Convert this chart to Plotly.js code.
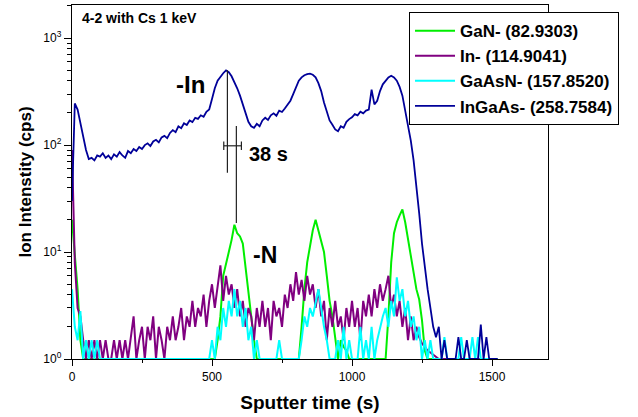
<!DOCTYPE html>
<html><head><meta charset="utf-8">
<script src="https://cdn.plot.ly/plotly-3.0.1.min.js"></script>
<style>html,body{margin:0;padding:0;background:#fff}#chart{width:638px;height:417px}</style>
</head><body><div id="chart"></div>
<script>
// Sputter time (s)
const time = [
  0,10,20,30,40,50,60,70,80,90,
  100,110,120,130,140,150,160,170,180,190,
  200,210,220,230,240,250,260,270,280,290,
  300,310,320,330,340,350,360,370,380,390,
  400,410,420,430,440,450,460,470,480,490,
  500,510,520,530,540,550,560,570,580,590,
  600,610,620,630,640,650,660,670,680,690,
  700,710,720,730,740,750,760,770,780,790,
  800,810,820,830,840,850,860,870,880,890,
  900,910,920,930,940,950,960,970,980,990,
  1000,1010,1020,1030,1040,1050,1060,1070,1080,1090,
  1100,1110,1120,1130,1140,1150,1160,1170,1180,1190,
  1200,1210,1220,1230,1240,1250,1260,1270,1280,1290,
  1300,1310,1320,1330,1340,1350,1360,1370,1380,1390,
  1400,1410,1420,1430,1440,1450,1460,1470,1480,1490,
  1500,1510,1520
];
const GaN = [
  20,9,4.5,1.5,1,1,1,1,1,1,
  1,1,1,1,1,1,1,1,1,1,
  1,1,1,1,1,1,1,1,1,1,
  1,1,1,1,1,1,1,1,1,1,
  1,1,1,1,1,1,1,1,1,1,
  1,1,1.5,2.5,6,8,10,13,18,15,
  14,12,7,4.5,2.5,1.5,1,1,1,1,
  1,1,1,1,1,1,1,1,1,1,
  1,1,2,4.5,8,11,16,20,16,13,
  10,6,3.5,2.5,1.5,1,1.5,1.3,1.2,1,
  1,1,1,1,1,1,1,1,1,1,
  1,1,1,2.5,8,15,19,22,25,19,
  13,9.5,6,4.5,3.6,2.3,1.2,1,1,1,
  1,1,1,1,1,1,1,1,1,1,
  1,1,1,1,1,1,1,1,1,1,
  1,1,1
];
const In = [
  90,8,3,2.5,1.5,1,1.5,1,1.5,1,
  1.5,1,1.5,1,1,1.5,1,1.5,1,1.5,
  1,1.5,2.5,1,1.5,2,1,2,1.5,2.5,
  1,2,1.5,1,2,1.5,2.5,1.5,2,3,
  1.5,2.5,2,3.5,2,3,2.5,4,2,3.5,
  5,3,4.5,7.5,3.5,6,4,5,3,4.5,
  2.5,3.5,2,3,2.5,1.5,3,2,3.5,2,
  3,1.5,3.5,2.5,3,2,4,3,5,3.5,
  6.5,4,5.5,3.5,6,4,5,3,4.5,2.5,
  3.5,1.5,3,2,3.5,2,2.5,1.5,3,2,
  3.5,2,3,1.5,3.5,2.5,4,2.5,4.5,3,
  5,3.5,4.5,6,3,4,2.5,3.5,2,3,
  1.5,2.5,1.5,2,1.6,1.4,1.3,1.2,1.15,1.1,
  1.05,1,1,1,1,1,1,1,1,1,
  1,1,1,1,1,1,1,1,1,1,
  1,1,1
];
const GaAsN = [
  4.5,2,1.5,2.8,1,1.5,1,1.5,1,1.5,
  1,1,1,1,1,1,1,1,1,1,
  1,1,1,1,1,1,1,1,1,1,
  1,1,1,1,1,1,1,1,1,1,
  1,1,1,1,1,1,1,1,1,1,
  1.5,1,2,1.5,3,2,3.5,2.5,4.5,2.5,
  3.5,2,3,1.5,2,1,1.5,1,1,1,
  1,1,1,1,1.5,1,1,1,1,1,
  1,1,1.5,2.5,2,3,2.5,3.5,4.5,3,
  2,1.5,1,1,1,1.5,1,2,1,1.5,
  1,1,1,2,1,1.5,1,2,1,1.5,
  2,2.5,3,2,3.5,2.5,5.8,3.5,4.5,2.5,
  3.5,2,2.5,1.5,2,1,1.5,1,1.5,1,
  1,1,1,1.6,1,1,1,1,1,1.6,
  1,1,1,1.6,1,1.6,1,1,1,1,
  1,1,1
];
const InGaAs = [
  30,245,215,160,120,90,74,76,72,80,
  78,84,76,80,74,82,78,86,80,76,
  88,84,92,88,96,92,100,104,98,108,
  112,106,118,122,116,130,138,132,150,144,
  160,154,170,164,180,176,190,184,205,215,
  270,340,400,440,470,500,480,440,390,340,
  290,240,200,165,150,145,158,150,170,180,
  172,190,198,188,210,204,220,240,260,300,
  350,400,430,450,460,465,455,430,380,320,
  250,200,170,155,140,135,150,145,165,175,
  182,195,190,205,198,210,215,330,240,260,
  320,370,400,430,445,430,400,350,290,210,
  150,110,72,42,23,12,7,4.5,3,2,
  1.6,2,1,1.5,1,1,1,1,1.6,1,
  1,1.5,1,1,1,1,2.1,1,1.6,1,
  1,1,1
];
const seriesNames = ['GaN- (82.9303)','In- (114.9041)','GaAsN- (157.8520)','InGaAs- (258.7584)'];
const seriesData = [GaN, In, GaAsN, InGaAs];
const seriesColors = ['#00ee00','#800080','#00ffff','#000099'];
const seriesWidths = [2,2,2,1.8];

// guide marks: peak positions and width bar (x in s, y in cps)
const guideX = [555,555,null,587,587,null,542,605,null,542,542,null,605,605];
const guideY = [55,502,null,18.7,151,null,98.5,98.5,null,90,108,null,90,108];

const yTickVals = [1,10,100,1000];
const yTickText = ['10<sup>0</sup>','10<sup>1</sup>','10<sup>2</sup>','10<sup>3</sup>'];
const yMinorVals = [2,3,4,5,6,7,8,9,20,30,40,50,60,70,80,90,200,300,400,500,600,700,800,900,2000];

const FONT = 'Arial, "Liberation Sans", sans-serif';

const traces = seriesData.map((d, i) => ({
  x: time, y: d, type: 'scatter', mode: 'lines', name: seriesNames[i],
  line: {color: seriesColors[i], width: seriesWidths[i]}
}));
traces.push({x: guideX, y: guideY, type: 'scatter', mode: 'lines', showlegend: false,
  hoverinfo: 'skip', line: {color: '#222', width: 1.2}});

const layout = {
  width: 638, height: 417,
  margin: {l: 72, r: 90, t: 5, b: 58},
  paper_bgcolor: '#fff', plot_bgcolor: '#fff',
  font: {family: FONT, color: '#000', size: 12},
  showlegend: true,
  legend: {x: 0.708, y: 0.98, xanchor: 'left', yanchor: 'top', itemwidth: 40,
    bgcolor: '#fff', bordercolor: '#000', borderwidth: 1,
    font: {family: FONT, size: 17, weight: 'bold', color: '#000'}},
  xaxis: {range: [0, 1700], tick0: 0, dtick: 500, ticks: 'outside', ticklen: 6,
    tickwidth: 1, tickcolor: '#000', showline: true, linecolor: '#000', linewidth: 1.2,
    mirror: true, showgrid: false, zeroline: false, layer: 'below traces',
    tickfont: {family: FONT, size: 12},
    minor: {dtick: 250, ticks: 'outside', ticklen: 3, tickcolor: '#000', showgrid: false},
    title: {text: 'Sputter time (s)', font: {family: FONT, size: 19, weight: 'bold'}, standoff: 13}},
  yaxis: {type: 'log', range: [0, 3.31], tickmode: 'array', tickvals: yTickVals, ticktext: yTickText,
    ticks: 'outside', ticklen: 7, tickwidth: 1, tickcolor: '#000',
    showline: true, linecolor: '#000', linewidth: 1.2, mirror: true, showgrid: false,
    zeroline: false, layer: 'below traces',
    tickfont: {family: FONT, size: 12},
    minor: {tickmode: 'array', tickvals: yMinorVals, ticks: 'outside', ticklen: 4, tickcolor: '#000', showgrid: false},
    title: {text: 'Ion Intenstity (cps)', font: {family: FONT, size: 17, weight: 'bold'}, standoff: 7}},
  annotations: [
    {xref: 'paper', yref: 'paper', x: 0.017, y: 0.962, xanchor: 'left', yanchor: 'middle',
      text: '4-2 with Cs 1 keV', showarrow: false, font: {family: FONT, size: 14, weight: 'bold'}},
    {xref: 'x', yref: 'y', x: 424, y: 2.57, text: '-In', showarrow: false,
      font: {family: FONT, size: 24, weight: 'bold'}},
    {xref: 'x', yref: 'y', x: 703, y: 1.916, text: '38 s', showarrow: false,
      font: {family: FONT, size: 20, weight: 'bold'}},
    {xref: 'x', yref: 'y', x: 688, y: 0.975, text: '-N', showarrow: false,
      font: {family: FONT, size: 23, weight: 'bold'}}
  ]
};

Plotly.newPlot('chart', traces, layout, {displayModeBar: false, staticPlot: true});
</script>
</body></html>
